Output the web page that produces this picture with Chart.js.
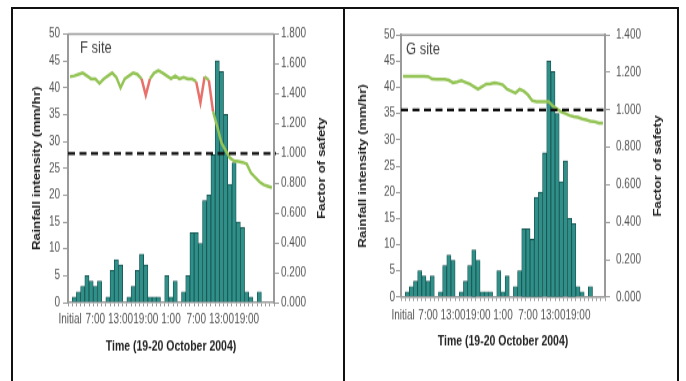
<!DOCTYPE html>
<html>
<head>
<meta charset="utf-8">
<script src="https://cdn.jsdelivr.net/npm/chart.js@4.4.1/dist/chart.umd.min.js"></script>
<style>
  body { margin: 0; background: #fff; width: 686px; height: 381px; overflow: hidden; position: relative; }
  #frame { position: absolute; left: 11px; top: 7px; width: 664px; height: 400px; border: 2px solid #111; }
  #divider { position: absolute; left: 343px; top: 7px; width: 2px; height: 400px; background: #111; }
  /* the source figure is stretched vertically, so the panels are too */
  .panel { position: absolute; top: 10px; transform: scaleY(1.3); transform-origin: 0 0; }
</style>
</head>
<body>
<div id="frame"></div>
<div id="divider"></div>
<div class="panel" style="left:14px"><canvas id="chartF" width="329" height="286"></canvas></div>
<div class="panel" style="left:346px"><canvas id="chartG" width="332" height="286"></canvas></div>
<script>
// hourly steps, 19 Oct 1:00 ("Initial") to 21 Oct 1:00
const categories = ['Initial', '2:00', '3:00', '4:00', '5:00', '6:00', '7:00', '8:00', '9:00', '10:00',
  '11:00', '12:00', '13:00', '14:00', '15:00', '16:00', '17:00', '18:00', '19:00', '20:00',
  '21:00', '22:00', '23:00', '0:00', '1:00', '2:00', '3:00', '4:00', '5:00', '6:00',
  '7:00', '8:00', '9:00', '10:00', '11:00', '12:00', '13:00', '14:00', '15:00', '16:00',
  '17:00', '18:00', '19:00', '20:00', '21:00', '22:00', '23:00', '0:00', '1:00'];
const labelStep = 6;
const lastLabelIndex = 42;

// rainfall intensity (mm/hr), same record for both sites
const rainfall = [0, 1, 2, 3, 5, 4, 3, 4, 0, 1, 6, 8, 7, 0, 1, 3, 6, 9, 7, 1,
  1, 1, 0, 5, 1, 4, 0, 2, 5, 13, 13, 11, 19, 20, 27.5, 45, 43, 35, 22, 26,
  15, 14, 2, 1, 0, 2, 0, 0, 0];

// factor of safety
const fsF = [1.515, 1.52, 1.53, 1.54, 1.52, 1.50, 1.50, 1.47, 1.50, 1.52, 1.54, 1.51, 1.44, 1.50,
  1.52, 1.54, 1.53, 1.50, 1.39, 1.50, 1.54, 1.556, 1.54, 1.52, 1.50, 1.52, 1.50, 1.51, 1.50,
  1.50, 1.48, 1.34, 1.515, 1.49, 1.28, 1.18, 1.07, 1.02, 0.97, 0.95, 0.945, 0.94, 0.93, 0.87,
  0.84, 0.81, 0.79, 0.78, 0.77];
const fsG = [1.18, 1.18, 1.18, 1.18, 1.18, 1.18, 1.178, 1.165, 1.163, 1.163, 1.163, 1.158, 1.145,
  1.15, 1.156, 1.147, 1.138, 1.125, 1.11, 1.125, 1.138, 1.14, 1.145, 1.14, 1.133, 1.11, 1.10,
  1.09, 1.11, 1.10, 1.08, 1.05, 1.044, 1.044, 1.044, 1.044, 1.02, 1.005, 0.99, 0.98, 0.97,
  0.964, 0.96, 0.952, 0.946, 0.94, 0.937, 0.93, 0.93];

const rainTicks = [0, 50, 5];
const fsTicksF = [0, 1.8, 0.2];
const fsTicksG = [0, 1.4, 0.2];
const safetyLimit = 1.0;

const xTitle = 'Time (19-20 October 2004)';
const leftTitle = 'Rainfall intensity (mm/hr)';
const rightTitle = 'Factor of safety';

const fontFamily = '"Liberation Sans", Arial, sans-serif';
const lineGreen = '#93c455';
const lineRed = '#e8706a';

Chart.defaults.font.family = fontFamily;

// sharp drops in the factor of safety are drawn red
function isDip(c) {
  const a = c.p0.parsed.y, b = c.p1.parsed.y;
  return Math.abs(a - b) > 0.08 && Math.min(a, b) > 1.25;
}

const framePlugin = {
  id: 'framePlugin',
  afterDatasetsDraw(chart, args, opts) {
    const ctx = chart.ctx;
    const a = chart.chartArea;
    ctx.save();
    // top edge of plot box
    ctx.strokeStyle = '#9a9a9a';
    ctx.lineWidth = 1.6;
    ctx.beginPath();
    ctx.moveTo(a.left, a.top);
    ctx.lineTo(a.right, a.top);
    ctx.stroke();
    // FS = 1 line
    const y = chart.scales.y1.getPixelForValue(safetyLimit);
    ctx.strokeStyle = '#111';
    ctx.lineWidth = 2.2;
    ctx.setLineDash([7, 4.5]);
    ctx.beginPath();
    ctx.moveTo(a.left, y);
    ctx.lineTo(a.right + 2, y);
    ctx.stroke();
    ctx.setLineDash([]);
    // site label
    ctx.fillStyle = '#444';
    ctx.font = '13px ' + fontFamily;
    ctx.textAlign = 'left';
    ctx.textBaseline = 'middle';
    ctx.fillText(opts.site, a.left + opts.siteDx, a.top + 11);
    // axis titles
    ctx.fillStyle = '#222';
    ctx.font = 'bold 10.5px ' + fontFamily;
    ctx.textAlign = 'center';
    ctx.fillText(xTitle, (a.left + a.right) / 2, opts.xTitleY);
    const midY = (a.top + a.bottom) / 2;
    [[opts.leftTitleX, leftTitle], [opts.rightTitleX, rightTitle]].forEach(function (t) {
      ctx.save();
      ctx.translate(t[0], midY);
      ctx.rotate(-Math.PI / 2);
      ctx.fillText(t[1], 0, 0);
      ctx.restore();
    });
    ctx.restore();
  }
};

function makeChart(canvasId, fsValues, fsTicks, box) {
  const ctx = document.getElementById(canvasId);
  const axisColor = '#9a9a9a';
  return new Chart(ctx, {
    data: {
      labels: categories,
      datasets: [
        {
          type: 'line',
          data: fsValues,
          yAxisID: 'y1',
          borderColor: lineGreen,
          borderWidth: 2.5,
          pointRadius: 0,
          tension: 0,
          order: 0,
          segment: { borderColor: c => isDip(c) ? lineRed : lineGreen }
        },
        {
          type: 'bar',
          data: rainfall,
          yAxisID: 'y',
          backgroundColor: '#2f8f89',
          borderColor: '#17504d',
          borderWidth: 0.8,
          barPercentage: 1,
          categoryPercentage: 1,
          order: 1
        }
      ]
    },
    options: {
      responsive: false,
      animation: false,
      layout: { padding: { top: box.top, left: 0, right: 0, bottom: 0 } },
      plugins: {
        legend: { display: false },
        tooltip: { enabled: false },
        framePlugin: box
      },
      scales: {
        x: {
          grid: { drawOnChartArea: false, tickLength: 3, color: axisColor, offset: true },
          border: { color: axisColor, width: 1.6 },
          ticks: {
            autoSkip: false, maxRotation: 0, padding: box.xPad, color: '#555',
            font: { size: 10 },
            callback: (v, i) => (i % labelStep === 0 && i <= lastLabelIndex) ? categories[i] : ''
          },
          afterFit: s => { s.height = box.xHeight; }
        },
        y: {
          position: 'left',
          min: rainTicks[0], max: rainTicks[1],
          grid: { drawOnChartArea: false, tickLength: 5, color: axisColor },
          border: { color: axisColor, width: 2 },
          ticks: { stepSize: rainTicks[2], padding: box.leftPad, color: '#555', font: { size: 10 } },
          afterFit: s => { s.width = box.leftW; }
        },
        y1: {
          position: 'right',
          min: fsTicks[0], max: fsTicks[1],
          grid: { drawOnChartArea: false, tickLength: 5, color: axisColor },
          border: { color: axisColor, width: 2 },
          ticks: {
            stepSize: fsTicks[2], padding: box.rightPad, color: '#555', font: { size: 10 },
            callback: v => v.toFixed(3)
          },
          afterFit: s => { s.width = box.rightW; }
        }
      }
    },
    plugins: [framePlugin]
  });
}

makeChart('chartF', fsF, fsTicksF, {
  site: 'F site', siteDx: 12, top: 18.5, leftW: 54, rightW: 69, xHeight: 61,
  xPad: 4, leftPad: 3, rightPad: 2, leftTitleX: 23, rightTitleX: 308, xTitleY: 259
});
makeChart('chartG', fsG, fsTicksG, {
  site: 'G site', siteDx: 5, top: 19.2, leftW: 55, rightW: 73, xHeight: 65.2,
  xPad: 5, leftPad: 1, rightPad: 6, leftTitleX: 17, rightTitleX: 312, xTitleY: 255
});
</script>
</body>
</html>
